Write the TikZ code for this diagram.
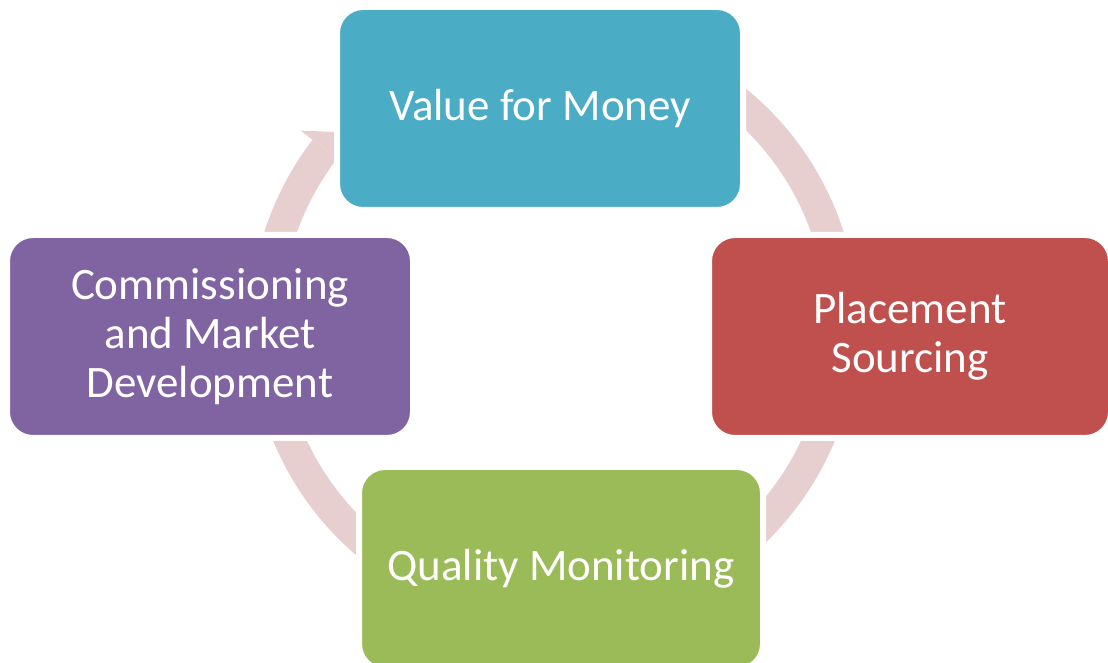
\documentclass[tikz,border=0pt]{standalone}
\usepackage{fontspec}
\setmainfont{Carlito}

\definecolor{ringpink}{RGB}{231,207,208}
\definecolor{valueblue}{RGB}{75,172,198}
\definecolor{placementred}{RGB}{192,80,77}
\definecolor{qualitygreen}{RGB}{155,187,89}
\definecolor{commissionpurple}{RGB}{128,100,162}

\begin{document}
\begin{tikzpicture}[
                x=1pt,
                y=1pt,
                block/.style={
                    rectangle,
                    draw=white,
                    line width=6pt,
                    rounded corners=26pt,
                    align=center,
                    text=white,
                    font=\fontsize{45}{49}\selectfont,
                    minimum width=406pt,
                    minimum height=203pt
                },
                ring/.style={
                    draw=ringpink,
                    line width=31pt
                }]

                \useasboundingbox (0,0) rectangle (1108,663);
                \coordinate (centre) at (554,338.6);

                % circular arrow behind the boxes
                \draw [ring] ([shift={(142.6:288.5)}]centre) arc [start angle=142.6, end angle=440, radius=288.5];
                \fill [ringpink] ([shift={(142.6:319)}]centre) -- ([shift={(138.2:288.5)}]centre) -- ([shift={(142.6:258)}]centre) -- cycle;

                \node [block, fill=valueblue] (value) at (540,554.5) {Value for Money};
                \node [block, fill=placementred, minimum width=402pt] (placement) at (910,326.5) {Placement\\Sourcing};
                \node [block, fill=qualitygreen, minimum width=404pt] (quality) at (561,94.5) {Quality Monitoring};
                \node [block, fill=commissionpurple] (commissioning) at (210,326.5) {Commissioning\\and Market\\Development};

            \end{tikzpicture}
\end{document}
